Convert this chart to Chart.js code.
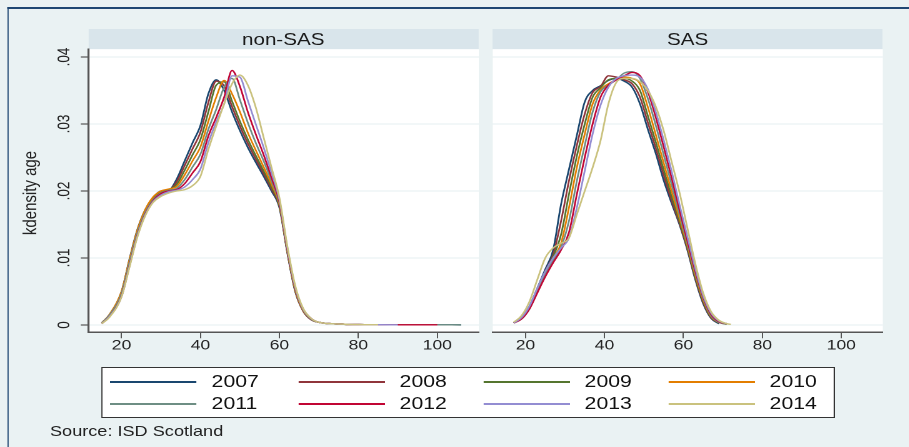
<!DOCTYPE html>
<html>
<head>
<meta charset="utf-8">
<script src="https://cdn.jsdelivr.net/npm/chart.js@4.4.0/dist/chart.umd.min.js"></script>
<style>
  html, body { margin: 0; padding: 0; background: #EAF2F3; overflow: hidden; width: 909px; height: 447px; }
  body { font-family: "Liberation Sans", Arial, sans-serif; color: #1a1a1a; }
  /* the reference is stretched sideways, so the whole page is drawn narrow and scaled */
  #page { position: absolute; left: 0; top: 0; width: 727px; height: 447px; transform: scaleX(1.25); transform-origin: 0 0; }
  #frame { position: absolute; left: 5.8px; top: 7px; width: 800px; height: 500px; border-top: 2px solid #1F4773; border-left: 1.6px solid #1F4773; }
  .head { position: absolute; top: 29.3px; height: 20px; width: 312px; background: #D9E5EB; text-align: center; font-size: 16.5px; line-height: 20px; color: #1a1a1a; }
  canvas { position: absolute; top: 0; }
  #legend { position: absolute; left: 81.4px; top: 367.3px; width: 586.2px; height: 51px; box-sizing: border-box; background: #fff; border: 1.3px solid #333; }
  .key { position: absolute; height: 1.5px; width: 69px; }
  .lab { position: absolute; font-size: 17px; line-height: 20px; color: #111; }
  #source { position: absolute; left: 40px; top: 422px; font-size: 14.5px; line-height: 18px; color: #222; }
</style>
</head>
<body>
<div id="page">
  <div id="frame"></div>
  <div class="head" style="left:70.6px">non-SAS</div>
  <div class="head" style="left:394.2px">SAS</div>
  <canvas id="nonsas" width="390" height="360" style="left:0px;width:390px;height:360px"></canvas>
  <canvas id="sas" width="330" height="360" style="left:385px;width:330px;height:360px"></canvas>
  <div id="legend"></div>
  <div id="source">Source: ISD Scotland</div>
</div>
<script>
// years and Stata s2color line colours
const years = ['2007', '2008', '2009', '2010', '2011', '2012', '2013', '2014'];
const colors = ['#1A476F', '#90353B', '#55752F', '#E37E00', '#6E8E84', '#C10534', '#938DD2', '#CAC27E'];

const xTicks = [20, 40, 60, 80, 100];
const yTicks = [0, 0.01, 0.02, 0.03, 0.04];
const yTickLabels = ['0', '.01', '.02', '.03', '.04'];

// non-SAS panel: age grid and density per year
const nsAge = [15, 17, 20, 22, 24, 26, 28, 30, 32, 34, 36, 38, 40, 42, 44, 46, 48, 50, 52, 54, 56, 58, 60, 62, 64, 66, 68, 70, 75, 80, 85, 90, 100, 106];
const ns07 = [.0003, .0016, .0050, .0098, .0142, .0172, .0190, .0200, .0201, .0218, .0245, .0272, .0298, .0345, .0366, .0350, .0318, .0290, .0265, .0243, .0222, .0200, .0175, .0108, .0050, .0021, .0008, .0004, .00015, .00006, .00004, .00003, .00003, .00002];
const ns08 = [.0003, .0015, .0048, .0095, .0140, .0170, .0189, .0199, .0201, .0214, .0238, .0263, .0288, .0332, .0364, .0357, .0326, .0297, .0271, .0248, .0226, .0203, .0177, .0109, .0051, .0021, .0008, .0004, .00015, .00006, .00004, .00003, .00003, null];
const ns09 = [.0003, .0015, .0047, .0094, .0139, .0170, .0190, .0199, .0202, .0210, .0231, .0254, .0277, .0318, .0358, .0363, .0334, .0304, .0277, .0253, .0230, .0206, .0178, .0110, .0052, .0022, .0009, .0004, .00015, .00006, .00004, .00003, null, null];
const ns10 = [.0003, .0016, .0050, .0097, .0141, .0172, .0191, .0200, .0203, .0207, .0224, .0245, .0266, .0304, .0340, .0365, .0345, .0318, .0287, .0261, .0236, .0210, .0180, .0111, .0053, .0022, .0009, .0004, .00015, .00006, .00004, .00003, .00003, null];
const ns11 = [.0003, .0015, .0047, .0093, .0137, .0168, .0187, .0197, .0201, .0204, .0217, .0236, .0255, .0292, .0322, .0355, .0368, .0336, .0302, .0272, .0245, .0215, .0182, .0112, .0055, .0023, .0009, .0004, .00015, .00006, .00004, .00003, .00003, .00002];
const ns12 = [.0002, .0013, .0043, .0088, .0133, .0165, .0185, .0196, .0200, .0202, .0211, .0227, .0244, .0282, .0310, .0340, .0380, .0356, .0318, .0285, .0254, .0220, .0184, .0114, .0056, .0024, .0010, .0004, .00015, .00006, .00004, .00003, .00003, null];
const ns13 = [.0002, .0013, .0042, .0087, .0132, .0164, .0184, .0194, .0199, .0201, .0206, .0217, .0233, .0272, .0303, .0330, .0372, .0370, .0335, .0300, .0265, .0227, .0187, .0116, .0057, .0024, .0010, .0004, .00015, .00006, .00004, .00003, null, null];
const ns14 = [.0002, .0012, .0042, .0086, .0131, .0163, .0183, .0192, .0197, .0200, .0202, .0208, .0222, .0262, .0297, .0330, .0360, .0373, .0358, .0325, .0280, .0235, .0190, .0118, .0059, .0025, .0010, .0004, .00015, .00006, .00004, null, null, null];

// SAS panel
const sAge = [17, 19, 21, 23, 25, 27, 29, 31, 33, 35, 37, 39, 41, 43, 45, 47, 49, 51, 53, 55, 57, 59, 61, 63, 65, 67, 69, 71, 72];
const s07 = [.0003, .0011, .0028, .0055, .0083, .0112, .0180, .0232, .0283, .0333, .0350, .0357, .0365, .0368, .0364, .0355, .0330, .0292, .0256, .0216, .0182, .0150, .0112, .0068, .0032, .0010, .0002, null, null];
const s08 = [.0003, .0010, .0026, .0052, .0080, .0105, .0155, .0215, .0268, .0315, .0347, .0356, .0372, .0370, .0366, .0360, .0340, .0302, .0264, .0224, .0186, .0152, .0114, .0070, .0034, .0011, .0003, null, null];
const s09 = [.0003, .0010, .0026, .0052, .0079, .0102, .0135, .0195, .0252, .0300, .0340, .0354, .0366, .0368, .0368, .0364, .0350, .0312, .0273, .0232, .0192, .0155, .0116, .0072, .0036, .0012, .0003, null, null];
const s10 = [.0003, .0010, .0026, .0051, .0077, .0099, .0122, .0175, .0235, .0285, .0330, .0351, .0360, .0366, .0370, .0368, .0360, .0325, .0284, .0242, .0200, .0160, .0119, .0075, .0038, .0013, .0004, .0001, null];
const s11 = [.0003, .0009, .0024, .0049, .0075, .0096, .0116, .0155, .0215, .0268, .0318, .0348, .0358, .0366, .0376, .0378, .0368, .0338, .0298, .0254, .0210, .0165, .0122, .0078, .0040, .0014, .0004, .0001, null];
const s12 = [.0003, .0009, .0024, .0048, .0072, .0093, .0112, .0138, .0195, .0250, .0300, .0340, .0358, .0366, .0372, .0377, .0372, .0348, .0310, .0266, .0220, .0172, .0126, .0081, .0042, .0016, .0005, .0002, null];
const s13 = [.0003, .0011, .0028, .0055, .0080, .0100, .0115, .0130, .0175, .0230, .0285, .0328, .0355, .0368, .0372, .0373, .0370, .0352, .0318, .0276, .0230, .0180, .0132, .0085, .0044, .0018, .0006, .0002, null];
const s14 = [.0004, .0014, .0035, .0068, .0100, .0115, .0122, .0130, .0165, .0200, .0235, .0275, .0330, .0362, .0368, .0368, .0363, .0350, .0326, .0290, .0244, .0198, .0145, .0092, .0048, .0020, .0007, .0002, .0001];

const nsSeries = [ns07, ns08, ns09, ns10, ns11, ns12, ns13, ns14];
const sSeries = [s07, s08, s09, s10, s11, s12, s13, s14];

function makeDatasets(ages, series) {
  return series.map((vals, i) => ({
    label: years[i],
    data: ages.map((a, k) => ({ x: a, y: vals[k] })),
    borderColor: colors[i],
    borderWidth: 1.4,
    pointRadius: 0,
    fill: false,
    cubicInterpolationMode: 'monotone',
    order: years.length - 1 - i
  }));
}

const FONT = '"Liberation Sans", Arial, sans-serif';

// white plot region + rotated y labels and title
const plotBits = {
  id: 'plotBits',
  beforeDraw(chart) {
    const { ctx, chartArea } = chart;
    ctx.save();
    ctx.fillStyle = '#ffffff';
    ctx.fillRect(chartArea.left, chartArea.top, chartArea.right - chartArea.left, chartArea.bottom - chartArea.top);
    ctx.restore();
  },
  afterDraw(chart, args, opts) {
    if (!opts.labels) return;
    const { ctx } = chart;
    const ys = chart.scales.y;
    ctx.save();
    ctx.fillStyle = '#222';
    ctx.textAlign = 'center';
    ctx.textBaseline = 'middle';
    ctx.font = '13.5px ' + FONT;
    yTicks.forEach((v, i) => {
      ctx.save();
      ctx.translate(52, ys.getPixelForValue(v));
      ctx.rotate(-Math.PI / 2);
      ctx.fillText(yTickLabels[i], 0, 0);
      ctx.restore();
    });
    ctx.font = '15px ' + FONT;
    ctx.translate(24.8, 193);
    ctx.rotate(-Math.PI / 2);
    ctx.fillText('kdensity age', 0, 0);
    ctx.restore();
  }
};

function makeChart(id, ages, series, left) {
  return new Chart(document.getElementById(id), {
    type: 'line',
    data: { datasets: makeDatasets(ages, series) },
    plugins: [plotBits],
    options: {
      responsive: false,
      animation: false,
      devicePixelRatio: 2,
      layout: { padding: left ? { left: 0, right: 7, top: 49.3, bottom: 0 } : { left: 9.2, right: 8.8, top: 49.3, bottom: 0 } },
      plugins: { legend: { display: false }, tooltip: { enabled: false }, plotBits: { labels: left } },
      scales: {
        x: {
          type: 'linear',
          min: 11.7,
          max: 110.5,
          afterBuildTicks: s => { s.ticks = xTicks.map(v => ({ value: v })); },
          afterFit: s => { s.height = 27.7; },
          ticks: { font: { family: FONT, size: 14 }, color: '#222', padding: -1, maxRotation: 0 },
          grid: { display: true, drawOnChartArea: false, drawTicks: true, tickLength: 6, tickColor: '#555', tickWidth: 1 },
          border: { display: true, color: '#555', width: 1.5 }
        },
        y: {
          min: -0.00109,
          max: 0.04115,
          afterBuildTicks: s => { s.ticks = yTicks.map(v => ({ value: v })); },
          afterFit: s => { s.width = left ? 71 : 0; },
          ticks: { display: false },
          grid: { color: '#E6EFF1', lineWidth: 1, drawTicks: left, tickLength: 6.4, tickColor: '#555', tickWidth: 1.2 },
          border: { display: left, color: '#555', width: 1.6 }
        }
      }
    }
  });
}

makeChart('nonsas', nsAge, nsSeries, true);
makeChart('sas', sAge, sSeries, false);

// legend, 4 columns x 2 rows as in the reference
const legend = document.getElementById('legend');
const keyLeft = [88.6, 239, 387, 535];
const textLeft = [169.6, 320, 468, 616];
const rowY = [382.3, 404.3];
years.forEach((y, i) => {
  const col = i % 4, row = Math.floor(i / 4);
  const key = document.createElement('div');
  key.className = 'key';
  key.style.background = colors[i];
  key.style.left = (keyLeft[col] - 81.4 - 1.3) + 'px';
  key.style.top = (rowY[row] - 367.3 - 1.3 - 0.75) + 'px';
  const lab = document.createElement('div');
  lab.className = 'lab';
  lab.textContent = y;
  lab.style.left = (textLeft[col] - 81.4 - 1.3) + 'px';
  lab.style.top = (rowY[row] - 367.3 - 1.3 - 10) + 'px';
  legend.appendChild(key);
  legend.appendChild(lab);
});
</script>
</body>
</html>
